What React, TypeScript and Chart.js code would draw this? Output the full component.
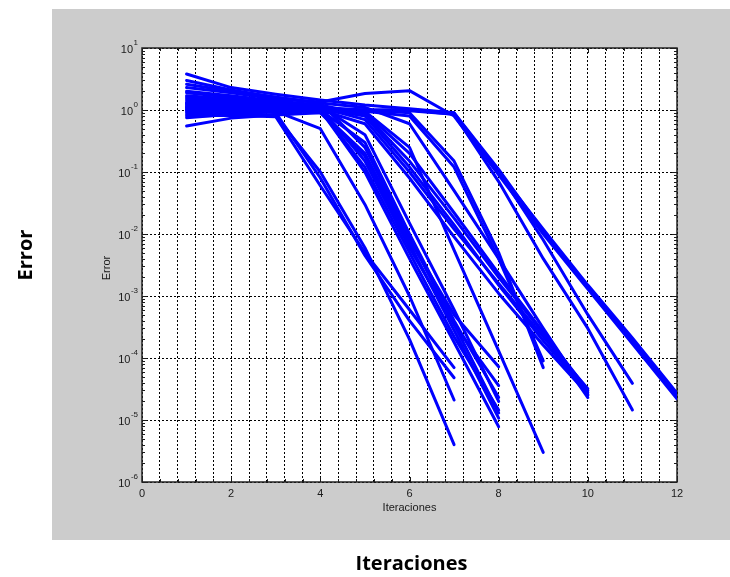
import React, { useEffect, useRef } from "react";
import { Chart, registerables } from "chart.js";

Chart.register(...registerables);

// ---- data -------------------------------------------------------------
const iterations = [1, 2, 3, 4, 5, 6, 7, 8, 9, 10, 11, 12];
const xTickLabels = [0, 2, 4, 6, 8, 10, 12];
const yDecades = [1e-6, 1e-5, 1e-4, 1e-3, 1e-2, 1e-1, 1, 10];
const yTickBase = "10";
const yTickExponents = ["-6", "-5", "-4", "-3", "-2", "-1", "0", "1"];
const yMinorFactors = [2, 3, 4, 5, 6, 7, 8, 9];

const err01 = [3.8, 2.3, 1.8, 1.45, 1.2, 1.05, 0.9, 0.11, 0.011, 1.4e-3, 1.9e-4, 2.4e-5];
const err02 = [0.75, 0.85, 0.95, 1.0, 1.0, 1.0, 0.85, 0.1, 0.012, 1.5e-3, 2.1e-4, 2.7e-5];
const err03 = [2.3, 1.9, 1.5, 1.35, 1.85, 2.05, 0.8, 0.09, 0.01, 1.3e-3, 1.7e-4, 2.2e-5];
const err04 = [1.3, 1.2, 1.1, 1.05, 1.0, 1.0, 0.9, 0.1, 8e-3, 5e-4, 3.9e-5];
const err05 = [0.55, 0.74, 0.83, 0.9, 0.95, 0.97, 0.85, 0.07, 4e-3, 3e-4, 1.45e-5];
const err06 = [1.6, 1.4, 1.25, 1.1, 0.7, 0.1, 1.2e-2, 1.6e-3, 2.2e-4, 3.2e-5];
const err07 = [1.1, 1.05, 1.0, 1.0, 0.6, 0.08, 9e-3, 1.1e-3, 1.6e-4, 2.6e-5];
const err08 = [2.0, 1.7, 1.4, 1.2, 0.85, 0.15, 1.8e-2, 2e-3, 2.5e-4, 2.3e-5];
const err09 = [0.9, 0.9, 0.95, 1.0, 0.9, 0.2, 2.2e-2, 2.3e-3, 2.6e-4, 3.0e-5];
const err10 = [1.4, 1.25, 1.1, 1.05, 0.8, 0.12, 1.4e-2, 1.5e-3, 1.9e-4, 2.8e-5];
const err11 = [1.2, 1.1, 1.05, 1.0, 0.95, 0.25, 5.5e-3, 1.3e-4, 3e-6];
const err12 = [1.5, 1.3, 1.2, 1.1, 1.0, 0.9, 0.15, 5e-3, 7e-5];
const err13 = [0.85, 0.9, 0.92, 0.95, 0.95, 0.8, 0.12, 4e-3, 9e-5];
const err14 = [1.0, 0.9, 0.8, 0.1, 6e-3, 2e-4, 4e-6];
const err15 = [0.8, 0.82, 0.78, 0.06, 5e-3, 6e-4, 7e-5];
const err16 = [1.3, 1.1, 0.9, 0.08, 4.5e-3, 4e-4, 4.8e-5];
const err17 = [1.1, 1.0, 0.95, 0.5, 3e-2, 1e-3, 2.1e-5];
const err18 = [1.05, 1.0, 1.0, 0.95, 0.2, 8e-3, 5e-4, 7.2e-5];
const err19 = [1.7, 1.5, 1.3, 1.1, 0.15, 6e-3, 3.5e-4, 3.6e-5];
const err20 = [0.95, 0.95, 0.97, 1.0, 0.3, 1e-2, 4e-4, 2.3e-5];
const err21 = [1.25, 1.15, 1.1, 1.0, 0.12, 5e-3, 2.2e-4, 1.45e-5];
const err22 = [2.6, 2.0, 1.6, 1.3, 0.25, 9e-3, 3.5e-4, 1.3e-5];
const err23 = [1.0, 0.95, 0.95, 0.9, 0.18, 7e-3, 2.8e-4, 1.07e-5];
const err24 = [1.15, 1.1, 1.05, 1.0, 0.1, 4e-3, 1.8e-4, 7.8e-6];
const err25 = [3.0, 2.1, 1.6, 1.3, 1.1, 0.6, 5e-2, 4e-3, 3e-4, 2.5e-5];
const err26 = [1.9, 1.6, 1.35, 1.15, 0.4, 1.5e-2, 6e-4, 2e-5];

const series = [
  err01, err02, err03, err04, err05, err06, err07, err08, err09, err10, err11, err12, err13,
  err14, err15, err16, err17, err18, err19, err20, err21, err22, err23, err24, err25, err26,
];

const xTitle = "Iteraciones";
const yTitle = "Error";

// ---- styles -------------------------------------------------------------
const BLUE = "#0000ff";
const AXIS = "#1a1a1a";
const FAMILY = '"Liberation Sans", Arial, sans-serif';
const SMALL_FONT = `11px ${FAMILY}`;
const EXP_FONT = `8px ${FAMILY}`;
const BOLD_FONT = 'bold 20px "Open Sans", "Liberation Sans", sans-serif';

const framePlugin = {
  id: "matlabFrame",
  beforeDraw(chart: any) {
    const { ctx, chartArea: a, width, height } = chart;
    ctx.save();
    ctx.fillStyle = "#ffffff";
    ctx.fillRect(0, 0, width, height);
    ctx.fillStyle = "#cccccc";
    ctx.fillRect(52, 9, width - 52, 540 - 9);
    ctx.fillStyle = "#ffffff";
    ctx.fillRect(a.left, a.top, a.right - a.left, a.bottom - a.top);
    ctx.restore();
  },
  beforeDatasetsDraw(chart: any) {
    const { ctx, chartArea: a } = chart;
    const xs = chart.scales.x;
    const ys = chart.scales.y;
    ctx.save();
    ctx.strokeStyle = AXIS;
    ctx.lineWidth = 1;
    ctx.setLineDash([]);
    ctx.beginPath();
    xs.ticks.forEach((t: any) => {
      const r = Math.round(t.value);
      const major = Math.abs(t.value - r) < 1e-6 && xTickLabels.includes(r);
      const len = major ? 5 : 3;
      const px = Math.round(xs.getPixelForValue(t.value)) + 0.5;
      ctx.moveTo(px, a.bottom);
      ctx.lineTo(px, a.bottom - len);
      ctx.moveTo(px, a.top);
      ctx.lineTo(px, a.top + len);
    });
    yDecades.forEach((d) => {
      const py = Math.round(ys.getPixelForValue(d)) + 0.5;
      ctx.moveTo(a.left, py);
      ctx.lineTo(a.left + 5, py);
      ctx.moveTo(a.right, py);
      ctx.lineTo(a.right - 5, py);
      if (d < 10) {
        yMinorFactors.forEach((f) => {
          const pm = Math.round(ys.getPixelForValue(d * f)) + 0.5;
          ctx.moveTo(a.left, pm);
          ctx.lineTo(a.left + 3, pm);
          ctx.moveTo(a.right, pm);
          ctx.lineTo(a.right - 3, pm);
        });
      }
    });
    ctx.stroke();
    ctx.lineWidth = 1.5;
    ctx.strokeStyle = "#222222";
    ctx.strokeRect(a.left, a.top, a.right - a.left, a.bottom - a.top);
    ctx.restore();
  },
  afterDraw(chart: any) {
    const { ctx, chartArea: a } = chart;
    const ys = chart.scales.y;
    const cx = (a.left + a.right) / 2;
    const cy = (a.top + a.bottom) / 2;
    ctx.save();
    ctx.fillStyle = AXIS;
    // y tick labels: 10 with raised exponent
    yDecades.forEach((d, i) => {
      const py = ys.getPixelForValue(d);
      const right = a.left - 4;
      ctx.font = EXP_FONT;
      const we = ctx.measureText(yTickExponents[i]).width;
      ctx.textAlign = "left";
      ctx.textBaseline = "middle";
      ctx.fillText(yTickExponents[i], right - we, py - 5);
      ctx.font = SMALL_FONT;
      ctx.textAlign = "right";
      ctx.fillText(yTickBase, right - we - 0.5, py + 1.5);
    });
    ctx.textAlign = "center";
    ctx.textBaseline = "middle";
    ctx.font = SMALL_FONT;
    ctx.fillText(xTitle, cx, a.bottom + 26);
    ctx.save();
    ctx.translate(a.left - 35, cy + 3);
    ctx.rotate(-Math.PI / 2);
    ctx.fillText(yTitle, 0, 0);
    ctx.restore();
    ctx.fillStyle = "#000000";
    ctx.font = BOLD_FONT;
    ctx.fillText(xTitle, cx + 2, 564);
    ctx.save();
    ctx.translate(26, cy - 10);
    ctx.rotate(-Math.PI / 2);
    ctx.fillText(yTitle, 0, 0);
    ctx.restore();
    ctx.restore();
  },
};

export default function App() {
  const canvasRef = useRef<HTMLCanvasElement | null>(null);

  useEffect(() => {
    const canvas = canvasRef.current;
    if (!canvas) return;
    const chart = new Chart(canvas, {
      type: "line",
      data: {
        datasets: series.map((s, k) => ({
          label: `Caso ${k + 1}`,
          data: s.map((v, i) => ({ x: iterations[i], y: v })),
          borderColor: BLUE,
          backgroundColor: BLUE,
          borderWidth: 3,
          pointRadius: 0,
          pointHoverRadius: 0,
          tension: 0,
          fill: false,
          borderJoinStyle: "round",
          borderCapStyle: "round",
        })),
      },
      options: {
        responsive: false,
        animation: false,
        devicePixelRatio: 1,
        events: [],
        layout: { padding: { left: 52, right: 53, top: 48, bottom: 55 } },
        plugins: {
          legend: { display: false },
          tooltip: { enabled: false },
          title: { display: false },
        },
        scales: {
          x: {
            type: "linear",
            min: 0,
            max: 12,
            afterFit: (s: any) => {
              s.height = 40;
            },
            ticks: {
              stepSize: 0.4,
              autoSkip: false,
              maxRotation: 0,
              minRotation: 0,
              padding: 5,
              color: AXIS,
              font: { family: FAMILY, size: 11 },
              callback: (v: any) => {
                const n = Number(v);
                const r = Math.round(n);
                return Math.abs(n - r) < 1e-6 && xTickLabels.includes(r) ? String(r) : "";
              },
            },
            grid: { color: "#000000", lineWidth: 1, drawTicks: false },
            border: { display: false, dash: [2, 2] },
          },
          y: {
            type: "logarithmic",
            min: 1e-6,
            max: 10,
            afterFit: (s: any) => {
              s.width = 90;
            },
            afterBuildTicks: (s: any) => {
              s.ticks = yDecades.map((v) => ({ value: v, major: true }));
            },
            ticks: {
              display: false,
              autoSkip: false,
            },
            grid: { color: "#000000", lineWidth: 1, drawTicks: false },
            border: { display: false, dash: [2, 2] },
          },
        },
      },
      plugins: [framePlugin],
    } as any);
    return () => chart.destroy();
  }, []);

  return (
    <div style={{ position: "fixed", left: 0, top: 0, width: 730, height: 577 }}>
      <canvas
        ref={canvasRef}
        width={730}
        height={577}
        style={{ display: "block", width: 730, height: 577 }}
      />
    </div>
  );
}
